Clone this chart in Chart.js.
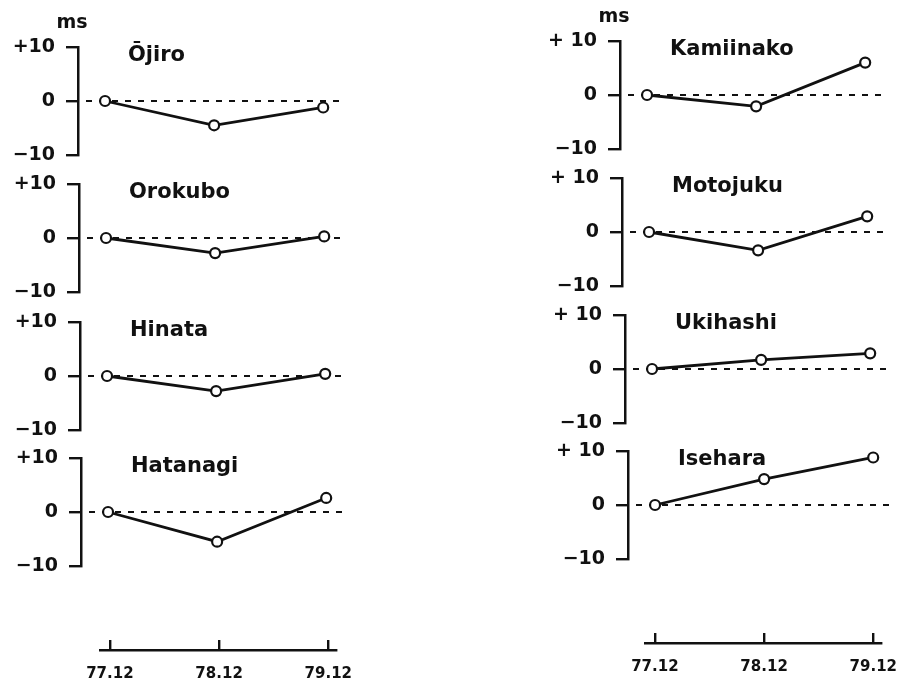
<!DOCTYPE html>
<html lang="en">
<head>
<meta charset="UTF-8">
<title>Station residuals 77.12 - 79.12</title>
<script src="https://cdn.jsdelivr.net/npm/chart.js@4.4.0/dist/chart.umd.min.js"></script>
<style>
  html, body { margin: 0; padding: 0; background: #fff; }
  #page { position: relative; width: 897px; height: 684px; overflow: hidden; background: #fff; }
  #page canvas { position: absolute; }
</style>
</head>
<body>
<div id="page"></div>
<script>
// survey epochs (x axis)
const periods = ['77.12', '78.12', '79.12'];

// y axis ticks, ms
const yTicks = [-10, 0, 10];
const leftTickLabels = ['\u221210', '0', '+10'];
const rightTickLabels = ['\u221210', '0', '+ 10'];

// left column stations
const leftNames = ['\u014Cjiro', 'Orokubo', 'Hinata', 'Hatanagi'];
const ojiro = [0, -4.5, -1.2];
const orokubo = [0, -2.8, 0.3];
const hinata = [0, -2.8, 0.4];
const hatanagi = [0, -5.5, 2.6];

// right column stations
const rightNames = ['Kamiinako', 'Motojuku', 'Ukihashi', 'Isehara'];
const kamiinako = [0, -2.1, 6.0];
const motojuku = [0, -3.4, 2.9];
const ukihashi = [0, 1.7, 2.9];
const isehara = [0, 4.8, 8.8];

const leftValues = [ojiro, orokubo, hinata, hatanagi];
const rightValues = [kamiinako, motojuku, ukihashi, isehara];

// layout (pixels): where each panel's y axis line and +10 tick sit
const leftAxisX = [78, 79, 80, 81];
const leftPlotTop = [47, 184, 322, 458];
const rightAxisX = [620, 622, 625, 628];
const rightPlotTop = [41, 178, 315, 451];

const INK = '#111';
const FONT = 'DejaVu Sans';
const Y_AXIS_W = 70;
const PLOT_W = 267;
const PLOT_H = 108;
const PAD_TOP = 32;
const PAD_BOTTOM = 26;

Chart.defaults.font.family = FONT;
Chart.defaults.color = INK;

const page = document.getElementById('page');

function makeCanvas(left, top, width, height) {
    const c = document.createElement('canvas');
    c.width = width;
    c.height = height;
    c.style.left = left + 'px';
    c.style.top = top + 'px';
    c.style.width = width + 'px';
    c.style.height = height + 'px';
    page.appendChild(c);
    return c;
}

// dashed zero reference line, drawn under the data line
const zeroLine = {
    id: 'zeroLine',
    beforeDatasetsDraw(chart) {
        const { ctx, chartArea, scales } = chart;
        const py = scales.y.getPixelForValue(0);
        ctx.save();
        ctx.strokeStyle = INK;
        ctx.lineWidth = 2;
        ctx.setLineDash([6, 7]);
        ctx.beginPath();
        ctx.moveTo(chartArea.left + 8, py);
        ctx.lineTo(chartArea.right, py);
        ctx.stroke();
        ctx.restore();
    }
};

// station name inside the panel, and the "ms" unit above the top panels
const panelLabel = {
    id: 'panelLabel',
    afterDraw(chart, args, opts) {
        const { ctx, chartArea } = chart;
        ctx.save();
        ctx.fillStyle = INK;
        ctx.textBaseline = 'middle';
        ctx.textAlign = 'left';
        ctx.font = 'bold 21px "' + FONT + '"';
        ctx.fillText(opts.name, chartArea.left + 50, chartArea.top + 9);
        if (opts.unit) {
            ctx.textAlign = 'center';
            ctx.font = 'bold 19px "' + FONT + '"';
            ctx.fillText(opts.unit, chartArea.left - 6, chartArea.top - 24);
        }
        ctx.restore();
    }
};

function drawPanel(name, values, axisX, plotTop, tickLabels, unit) {
    const canvas = makeCanvas(axisX - Y_AXIS_W, plotTop - PAD_TOP, Y_AXIS_W + PLOT_W, PAD_TOP + PLOT_H + PAD_BOTTOM);

    new Chart(canvas.getContext('2d'), {
        type: 'line',
        data: {
            datasets: [{
                label: name,
                data: values.map((v, i) => ({ x: i, y: v })),
                borderColor: INK,
                borderWidth: 2.8,
                tension: 0,
                pointRadius: 5,
                pointBorderWidth: 2.2,
                pointBackgroundColor: '#fff',
                pointBorderColor: INK,
                clip: false
            }]
        },
        options: {
            responsive: false,
            animation: false,
            events: [],
            layout: {
                autoPadding: false,
                padding: { top: PAD_TOP, bottom: PAD_BOTTOM, left: 0, right: 0 }
            },
            scales: {
                x: {
                    type: 'linear',
                    display: false,
                    min: -0.248,
                    max: 2.2
                },
                y: {
                    min: -10,
                    max: 10,
                    afterFit(scale) { scale.width = Y_AXIS_W; },
                    ticks: {
                        stepSize: 10,
                        padding: 11,
                        font: { size: 19, weight: 'bold' },
                        color: INK,
                        callback: (value) => tickLabels[yTicks.indexOf(value)]
                    },
                    grid: {
                        drawOnChartArea: false,
                        drawTicks: true,
                        tickLength: 12,
                        lineWidth: 2.4,
                        color: INK
                    },
                    border: { display: true, width: 2.5, color: INK }
                }
            },
            plugins: {
                legend: { display: false },
                tooltip: { enabled: false },
                panelLabel: { name: name, unit: unit }
            }
        },
        plugins: [zeroLine, panelLabel]
    });
}

// shared time axis under each column
function drawTimeAxis(plotLeft, tickTop) {
    const padSide = 30;
    const canvas = makeCanvas(plotLeft - padSide, tickTop - 4, 238 + padSide * 2, 50);

    new Chart(canvas.getContext('2d'), {
        type: 'line',
        data: { datasets: [] },
        options: {
            responsive: false,
            animation: false,
            events: [],
            layout: {
                autoPadding: false,
                padding: { top: 4, bottom: 0, left: padSide, right: padSide }
            },
            scales: {
                x: {
                    type: 'linear',
                    position: 'bottom',
                    min: -0.09,
                    max: 2.07,
                    afterFit(scale) { scale.height = 36; },
                    ticks: {
                        stepSize: 1,
                        includeBounds: false,
                        autoSkip: false,
                        maxRotation: 0,
                        padding: 15,
                        font: { size: 15, weight: 'bold' },
                        color: INK,
                        callback: (value) => periods[value]
                    },
                    grid: {
                        drawOnChartArea: true,
                        drawTicks: false,
                        lineWidth: 2.4,
                        color: INK
                    },
                    border: { display: true, width: 2.5, color: INK }
                },
                y: { display: false, min: 0, max: 1 }
            },
            plugins: {
                legend: { display: false },
                tooltip: { enabled: false }
            }
        }
    });
}

for (let i = 0; i < leftNames.length; i++) {
    drawPanel(leftNames[i], leftValues[i], leftAxisX[i], leftPlotTop[i], leftTickLabels, i === 0 ? 'ms' : null);
}
for (let i = 0; i < rightNames.length; i++) {
    drawPanel(rightNames[i], rightValues[i], rightAxisX[i], rightPlotTop[i], rightTickLabels, i === 0 ? 'ms' : null);
}

drawTimeAxis(100, 640);
drawTimeAxis(645, 633);
</script>
</body>
</html>
